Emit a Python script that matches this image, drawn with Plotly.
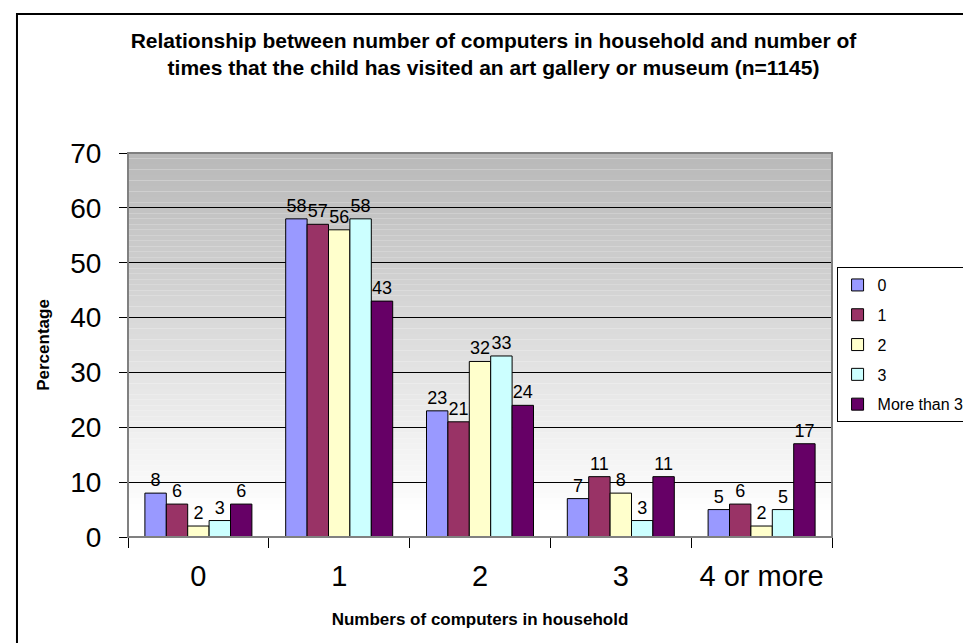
import plotly.graph_objects as go

categories = ["0", "1", "2", "3", "4 or more"]
series_names = ["0", "1", "2", "3", "More than 3"]
s0 = [8, 58, 23, 7, 5]
s1 = [6, 57, 21, 11, 6]
s2 = [2, 56, 32, 8, 2]
s3 = [3, 58, 33, 3, 5]
s4 = [6, 43, 24, 11, 17]
series_values = [s0, s1, s2, s3, s4]
colors = ["#9999FF", "#993366", "#FFFFCC", "#CCFFFF", "#660066"]
y_ticks = [0, 10, 20, 30, 40, 50, 60, 70]

FONT = "Liberation Sans, Arial, sans-serif"

fig = go.Figure()
for i, (name, vals) in enumerate(zip(series_names, series_values)):
    fig.add_trace(go.Bar(
        x=categories, y=vals, name=name,
        marker=dict(color=colors[i], line=dict(color="black", width=1)),
        text=[str(v) for v in vals], textposition="outside",
        textfont=dict(family=FONT, size=18, color="black"),
        constraintext="none", cliponaxis=False,
        legendgroup="g%d" % i,
    ))

shapes = []
# vertical gradient background of plot area (grey at top to white at bottom)
n = 70
for k in range(n):
    t = (k + 0.5) / n  # 0 bottom, 1 top
    f = max(0.0, (t - 0.06) / 0.94)
    c = int(round(255 - (255 - 184) * f))
    shapes.append(dict(type="rect", xref="paper", yref="y", x0=0, x1=1,
                       y0=70 * k / n, y1=70 * (k + 1) / n,
                       fillcolor="rgb(%d,%d,%d)" % (c, c, c),
                       line=dict(width=0), layer="below"))
# plot-area border
shapes.append(dict(type="rect", xref="paper", yref="paper", x0=0, x1=1, y0=0, y1=1,
                   line=dict(color="#808080", width=2), fillcolor="rgba(0,0,0,0)",
                   layer="above"))
# chart outer border
shapes.append(dict(type="rect", xref="paper", yref="paper", x0=-0.1577, x1=1.4,
                   y0=-0.6, y1=1.362, line=dict(color="black", width=2),
                   fillcolor="rgba(0,0,0,0)", layer="above"))

fig.update_layout(
    width=971, height=643,
    margin=dict(l=120, r=147, t=145, b=114, autoexpand=False),
    paper_bgcolor="white", plot_bgcolor="white",
    barmode="group", bargap=0.24, bargroupgap=0,
    font=dict(family=FONT, color="black"),
    title=dict(
        text="<b>Relationship between number of computers in household and number of<br>"
             "times that the child has visited an art gallery or museum (n=1145)</b>",
        x=0.5, xanchor="center", y=0.938, yanchor="middle",
        font=dict(family=FONT, size=21, color="black"),
    ),
    xaxis=dict(
        showline=True, linecolor="black", linewidth=1,
        ticks="outside", tickson="boundaries", ticklen=10, tickcolor="black",
        tickfont=dict(family=FONT, size=29, color="black"),
        ticklabelstandoff=13,
        title=dict(text="<b>Numbers of computers in household</b>",
                   font=dict(family=FONT, size=17, color="black"), standoff=22),
        showgrid=False,
    ),
    yaxis=dict(
        range=[0, 70], tickvals=y_ticks,
        showline=True, linecolor="black", linewidth=1,
        ticks="outside", ticklen=8, tickcolor="black",
        tickfont=dict(family=FONT, size=28, color="black"),
        ticklabelstandoff=12,
        showgrid=True, gridcolor="black", gridwidth=1,
        zeroline=False,
        title=dict(text="<b>Percentage</b>",
                   font=dict(family=FONT, size=17, color="black"), standoff=16),
    ),
    legend=dict(
        x=1.0065, xanchor="left", y=0.703, yanchor="top",
        bordercolor="black", borderwidth=1, bgcolor="white",
        font=dict(family=FONT, size=16, color="black"),
        tracegroupgap=6, itemwidth=30,
    ),
    shapes=shapes,
)

fig.write_html("out.html")
